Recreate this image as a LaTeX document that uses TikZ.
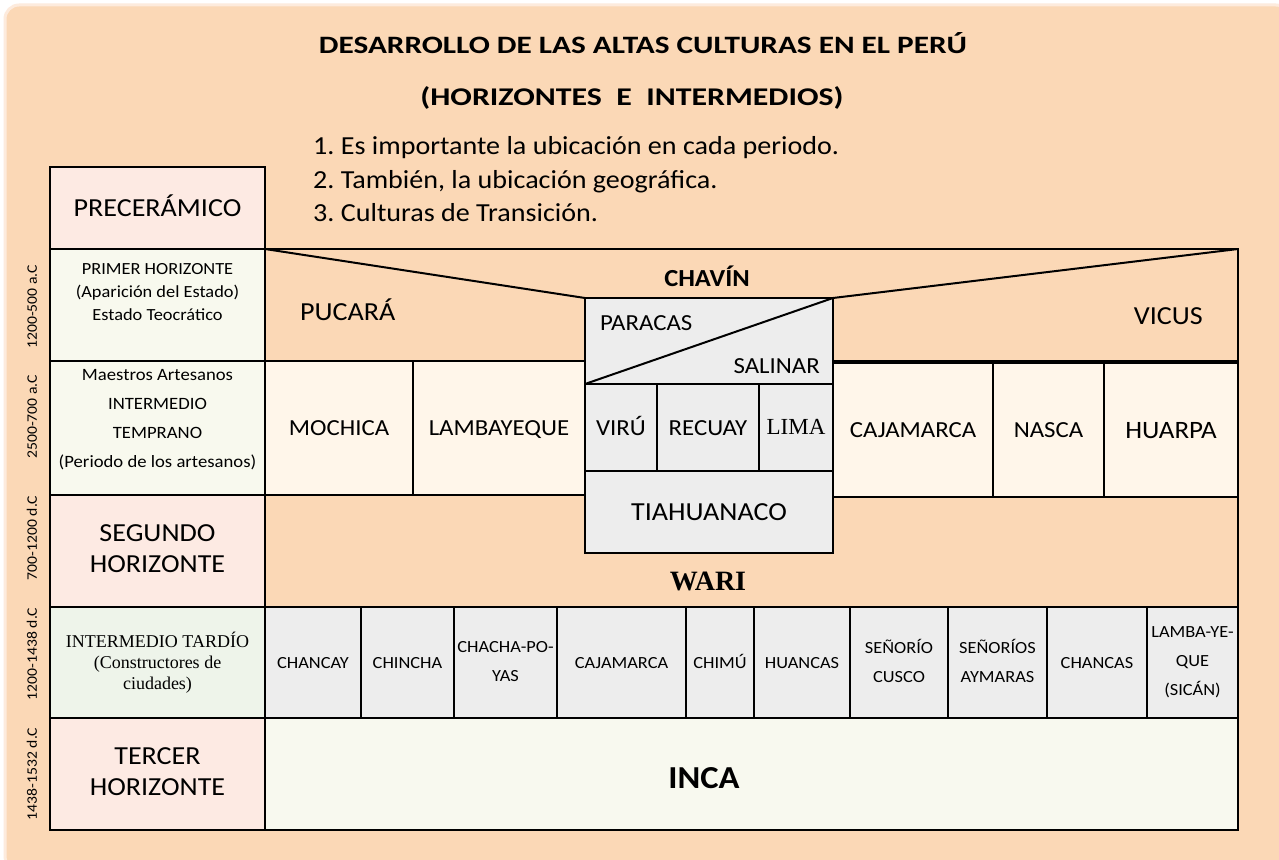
\documentclass[tikz,border=0pt]{standalone}
\usepackage{fontspec}
\setmainfont{Carlito}[FakeStretch=1.08]
\newfontfamily\titlefont{Carlito}[FakeStretch=1.25]
\newfontfamily\romanfont{Liberation Serif}
\usetikzlibrary{positioning}
\frenchspacing

\definecolor{fondo}{HTML}{FBD8B6}
\definecolor{borde}{HTML}{FDEBDD}
\definecolor{rosa}{HTML}{FDEAE3}
\definecolor{crema}{HTML}{F8F9EE}
\definecolor{verde}{HTML}{EEF4EA}
\definecolor{claro}{HTML}{FFF6EA}
\definecolor{gris}{HTML}{EDEDED}
\definecolor{incac}{HTML}{F8F9EF}

\newcommand{\cellstrut}{\vphantom{ÁÚp}}
\tikzstyle{cell} = [rectangle, draw=black, line width=2.5pt, outer sep=0pt,
    inner sep=0pt, anchor=north west, align=center, text=black,
    execute at begin node=\cellstrut, execute at end node=\cellstrut]
\tikzstyle{lbl} = [inner sep=0pt, align=center, text=black,
    execute at begin node=\cellstrut, execute at end node=\cellstrut]
\tikzstyle{fbig} = [font=\fontsize{26}{31}\selectfont]
\tikzstyle{fmid} = [font=\fontsize{23}{28}\selectfont]
\tikzstyle{fsmall} = [font=\fontsize{17}{29}\selectfont]
\tikzstyle{date} = [lbl, rotate=90, font=\fontsize{14.5}{16}\selectfont]
\tikzset{wh/.style 2 args={minimum width=#1pt, minimum height=#2pt}}

\begin{document}
\begin{tikzpicture}[x=1pt,y=-1pt]
  \useasboundingbox (0,0) rectangle (1279,859);
  \fill[white] (0,0) rectangle (1279,859);
  \filldraw[fill=fondo, draw=borde, line width=3pt, rounded corners=14pt]
    (5,5) rectangle (1290,870);

  % titulo y notas
  \node[lbl, anchor=base, font=\titlefont\bfseries\fontsize{25}{30}\selectfont] (tit) at (643,54)
    {DESARROLLO DE LAS ALTAS CULTURAS EN EL PERÚ};
  \node[lbl, anchor=base, font=\titlefont\bfseries\fontsize{25.5}{30}\selectfont] (sub) at (632,105)
    {(HORIZONTES\ \ E\ \ INTERMEDIOS)};
  \node[lbl, fbig, anchor=base west] (n1) at (313,154) {1. Es importante la ubicación en cada periodo.};
  \node[lbl, fbig, anchor=base west] (n2) at (313,188) {2. También, la ubicación geográfica.};
  \node[lbl, fbig, anchor=base west] (n3) at (313,221) {3. Culturas de Transición.};

  % columna de periodos
  \node[cell, fill=rosa, wh={215}{82}, fbig] (h0) at (50,167) {PRECERÁMICO};
  \node[cell, fill=crema, wh={215}{112}, below=0pt of h0] (h1) {};
  \node[cell, fill=crema, wh={215}{134}, below=0pt of h1] (h2) {};
  \node[cell, fill=rosa, wh={215}{112}, fbig, below=0pt of h2] (h3) {SEGUNDO\\HORIZONTE};
  \node[cell, fill=verde, wh={215}{111}, below=0pt of h3,
        font=\romanfont\fontsize{18}{21}\selectfont] (h4) {INTERMEDIO TARDÍO\\(Constructores de\\ciudades)};
  \node[cell, fill=rosa, wh={215}{112}, fbig, below=0pt of h4] (h5) {TERCER\\HORIZONTE};
  \node[lbl, font=\fontsize{17}{23}\selectfont] (h1t) at ([yshift=12pt]h1.center)
    {PRIMER HORIZONTE\\(Aparición del Estado)\\Estado Teocrático};
  \node[lbl, font=\fontsize{17.3}{29}\selectfont] (h2t) at ([yshift=8pt]h2.center)
    {Maestros Artesanos\\INTERMEDIO\\TEMPRANO\\(Periodo de los artesanos)};

  \node[date] (d1) at (32,307) {1200-500 a.C};
  \node[date] (d2) at (32,417) {2500-700 a.C};
  \node[date] (d3) at (32,538) {700-1200 d.C};
  \node[date] (d4) at (32,654) {1200-1438 d.C};
  \node[date] (d5) at (32,774) {1438-1532 d.C};

  % horizontes e intermedio temprano
  \node[cell, fill=fondo, wh={973}{112}] (pri) at (265,249) {};
  \node[cell, fill=fondo, wh={973}{112}] (seg) at (265,495) {};
  \node[cell, fill=claro, wh={148}{134}, fmid] (moc) at (265,361) {MOCHICA};
  \node[cell, fill=claro, wh={172}{134}, fmid, right=0pt of moc] (lam) {LAMBAYEQUE};
  \node[cell, fill=claro, wh={160}{134}, fmid] (caj) at (833,363) {CAJAMARCA};
  \node[cell, fill=claro, wh={111}{134}, fmid, right=0pt of caj] (nas) {NASCA};
  \node[cell, fill=claro, wh={134}{134}, font=\fontsize{25}{30}\selectfont, right=0pt of nas] (hua) {HUARPA};

  \node[cell, fill=gris, wh={248}{86}] (par) at (585,298) {};
  \node[cell, fill=gris, wh={72}{87}, fmid] (vir) at (par.south west) {VIRÚ};
  \node[cell, fill=gris, wh={102}{87}, fmid, right=0pt of vir] (rec) {RECUAY};
  \node[cell, fill=gris, wh={74}{87}, right=0pt of rec,
        font=\romanfont\fontsize{23}{27}\selectfont] (lim) {LIMA};
  \node[cell, fill=gris, wh={248}{82}, fbig] (tia) at (vir.south west) {TIAHUANACO};

  \draw[line width=2pt] (pri.north west) -- (par.north west);
  \draw[line width=2pt] (par.north east) -- (pri.north east);
  \draw[line width=2pt] (par.south west) -- (par.north east);

  \node[lbl, font=\bfseries\fontsize{24.5}{29}\selectfont] (chv) at (707,278) {CHAVÍN};
  \node[lbl, fbig, anchor=west] (puc) at (300,312) {PUCARÁ};
  \node[lbl, fbig, anchor=east] (vic) at (1203,316) {VICUS};
  \node[lbl, fmid, anchor=west] (prc) at ([xshift=15pt,yshift=-25pt]par.north west) {PARACAS};
  \node[lbl, fmid, anchor=east] (sal) at ([xshift=-13pt,yshift=18pt]par.south east) {SALINAR};
  \node[lbl, font=\romanfont\bfseries\fontsize{28}{32}\selectfont] (war) at (708,581) {WARI};

  % intermedio tardio
  \node[cell, fill=gris, wh={96}{111}, fsmall] (t1) at (265,607) {CHANCAY};
  \node[cell, fill=gris, wh={93}{111}, fsmall, right=0pt of t1] (t2) {CHINCHA};
  \node[cell, fill=gris, wh={103}{111}, fsmall, right=0pt of t2] (t3) {CHACHA-PO-\\YAS};
  \node[cell, fill=gris, wh={129}{111}, fsmall, right=0pt of t3] (t4) {CAJAMARCA};
  \node[cell, fill=gris, wh={68}{111}, fsmall, right=0pt of t4] (t5) {CHIMÚ};
  \node[cell, fill=gris, wh={96}{111}, fsmall, right=0pt of t5] (t6) {HUANCAS};
  \node[cell, fill=gris, wh={98}{111}, fsmall, right=0pt of t6] (t7) {SEÑORÍO\\CUSCO};
  \node[cell, fill=gris, wh={99}{111}, fsmall, right=0pt of t7] (t8) {SEÑORÍOS\\AYMARAS};
  \node[cell, fill=gris, wh={100}{111}, fsmall, right=0pt of t8] (t9) {CHANCAS};
  \node[cell, fill=gris, wh={91}{111}, fsmall, right=0pt of t9] (t10) {LAMBA-YE-\\QUE\\(SICÁN)};

  % tercer horizonte
  \node[cell, fill=incac, wh={973}{112}] (inc) at (265,718) {};
  \node[lbl, font=\bfseries\fontsize{32}{36}\selectfont] (inca) at (704,778) {INCA};
\end{tikzpicture}
\end{document}
